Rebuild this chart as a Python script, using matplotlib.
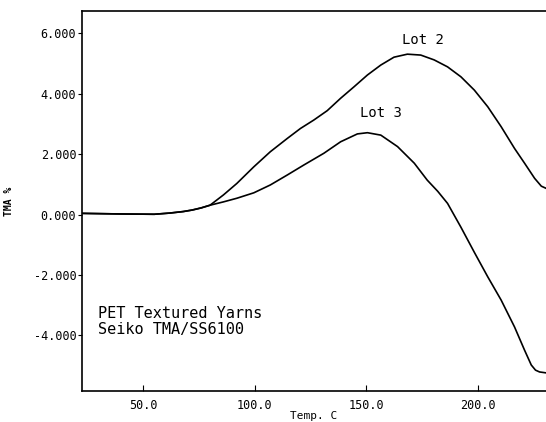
import numpy as np
import matplotlib.pyplot as plt
from matplotlib.ticker import FormatStrFormatter

plt.rcParams['axes.unicode_minus'] = False
plt.rcParams['font.family'] = 'DejaVu Sans Mono'

#%% data
temp_lot2 = [22.6, 40, 55, 62, 68, 72, 76, 80, 86, 92, 99.6, 107, 114.6, 120.5, 126.5, 132.5,
             138.5, 144.5, 150.5, 156.5, 162.4, 168.4, 174.4, 180.4, 186.4, 192.4, 198.4,
             204.4, 210.4, 216.4, 220.9, 225.4, 228.4, 230.5]
tma_lot2 = [0.04, 0.02, 0.01, 0.05, 0.1, 0.15, 0.22, 0.31, 0.65, 1.03, 1.58, 2.08, 2.52, 2.85, 3.13, 3.44,
            3.85, 4.23, 4.62, 4.95, 5.21, 5.31, 5.28, 5.12, 4.89, 4.56, 4.12,
            3.57, 2.91, 2.19, 1.70, 1.20, 0.94, 0.87]

temp_lot3 = [22.6, 40, 55, 62, 68, 72, 76, 80, 86, 92, 99.6, 107, 114.6, 122, 131, 138.5,
             146, 150.5, 156.5, 164, 171.5, 177.3, 182, 186.4, 192.4, 198.4, 204.4, 210.4,
             216.4, 220.9, 223.9, 225.8, 227.6, 230.5]
tma_lot3 = [0.04, 0.02, 0.01, 0.05, 0.1, 0.15, 0.22, 0.31, 0.42, 0.54, 0.72, 0.98, 1.31, 1.64, 2.03, 2.41,
            2.67, 2.71, 2.63, 2.25, 1.70, 1.14, 0.77, 0.37, -0.42, -1.25, -2.06, -2.83,
            -3.72, -4.49, -4.98, -5.15, -5.21, -5.24]

xticks = [50, 100, 150, 200]
yticks = [-4, -2, 0, 2, 4, 6]

#%% plot
fig = plt.figure(figsize=(5.46, 4.22), dpi=100)
ax = fig.add_axes([0.150, 0.0735, 0.850, 0.9005])

ax.plot(temp_lot2, tma_lot2, color='black', lw=1.2)
ax.plot(temp_lot3, tma_lot3, color='black', lw=1.2)

ax.set_xlim(22.6, 230.5)
ax.set_ylim(-5.84, 6.74)
ax.set_xticks(xticks)
ax.set_yticks(yticks)
ax.xaxis.set_major_formatter(FormatStrFormatter('%.1f'))
ax.yaxis.set_major_formatter(FormatStrFormatter('%.3f'))
ax.tick_params(axis='x', direction='in', length=4, labelsize=8.5, pad=6)
ax.tick_params(axis='y', direction='out', length=3, labelsize=8.5, pad=1)
ax.spines['right'].set_visible(False)
for s in ['left', 'bottom', 'top']:
    ax.spines[s].set_linewidth(1.2)

ax.set_xlabel('Temp. C', fontsize=8, labelpad=-1)
ax.set_ylabel('TMA %', fontsize=7, fontweight='bold', labelpad=14)

ax.text(175.3, 5.78, 'Lot 2', fontsize=10, ha='center', va='center')
ax.text(156.5, 3.36, 'Lot 3', fontsize=10, ha='center', va='center')
ax.text(29.8, -3.26, 'PET Textured Yarns', fontsize=11, ha='left', va='center')
ax.text(29.8, -3.79, 'Seiko TMA/SS6100', fontsize=11, ha='left', va='center')

fig.savefig('out.png', dpi=100)
